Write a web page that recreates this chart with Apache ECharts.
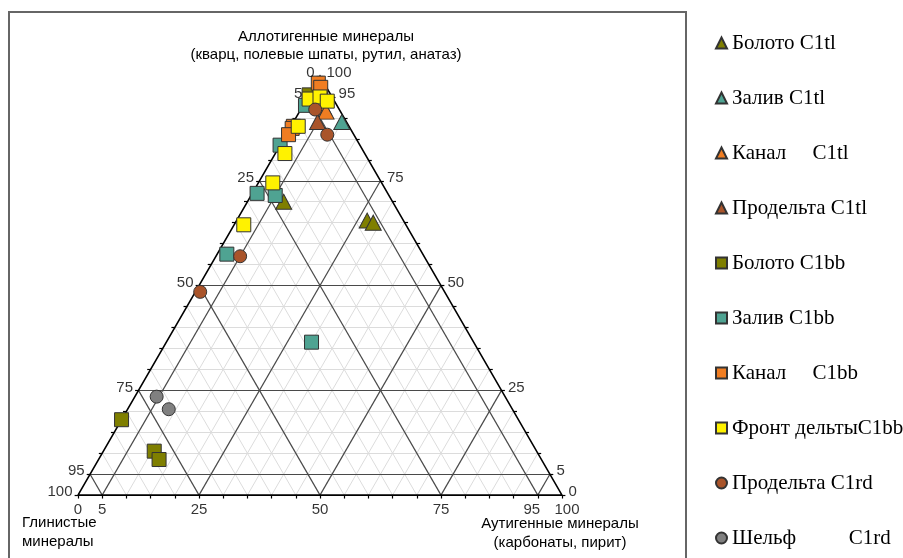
<!DOCTYPE html>
<html>
<head>
<meta charset="utf-8">
<script src="https://cdn.jsdelivr.net/npm/echarts@6/dist/echarts.min.js"></script>
<style>
html, body { margin: 0; padding: 0; background: #fff; }
#chart { width: 903px; height: 558px; }
</style>
</head>
<body>
<div id="chart"></div>
<script>
// составы образцов: [аллотигенные, аутигенные, глинистые], %
const bolotoC1tl = [[70, 7.5, 22.5], [65.5, 27, 7.5], [65, 28.5, 6.5]]
const zalivC1tl = [[89, 10, 1]]
const kanalC1tl = [[92.5, 4.5, 3], [91.5, 5.5, 3]]
const prodeltaC1tl = [[89, 5, 6]]
const bolotoC1bb = [[95.5, 0, 4.5], [18, 0, 82], [10.5, 10.5, 79], [8.5, 12.5, 79]]
const zalivC1bb = [[93, 0.5, 6.5], [83.5, 0, 16.5], [72, 1, 27], [71.5, 5, 23.5], [57.5, 2, 40.5], [36.5, 30, 33.5]]
const kanalC1bb = [[98.3, 0.5, 1.2], [97.3, 1.5, 1.2], [88, 0.5, 11.5], [87.5, 0.5, 12], [86, 0.5, 13.5]]
const frontC1bb = [[94.5, 0.5, 5], [95, 2.5, 2.5], [94, 4.5, 1.5], [88, 1.5, 10.5], [81.5, 2, 16.5], [74.5, 3, 22.5], [64.5, 2, 33.5]]
const prodeltaC1rd = [[92, 3, 5], [86, 8.5, 5.5], [57, 5, 38], [48.5, 1, 50.5]]
const shelfC1rd = [[23.5, 4.5, 72], [20.5, 8.5, 71]]

// шкала
const majorTicks = [5, 25, 50, 75, 95]
const labelTicks = [0, 5, 25, 50, 75, 95, 100]
const minorTicks = [10, 15, 20, 30, 35, 40, 45, 55, 60, 65, 70, 80, 85, 90]
const edgeTicks = [0, 5, 10, 15, 20, 25, 30, 35, 40, 45, 50, 55, 60, 65, 70, 75, 80, 85, 90, 95, 100]

const groups = [
  { name: 'Болото C1tl', data: bolotoC1tl, symbol: 'triangle', color: '#7f7f00' },
  { name: 'Залив C1tl', data: zalivC1tl, symbol: 'triangle', color: '#4fa392' },
  { name: 'Канал     C1tl', data: kanalC1tl, symbol: 'triangle', color: '#f07d22' },
  { name: 'Продельта C1tl', data: prodeltaC1tl, symbol: 'triangle', color: '#a9542a' },
  { name: 'Болото C1bb', data: bolotoC1bb, symbol: 'rect', color: '#7f7f00' },
  { name: 'Залив C1bb', data: zalivC1bb, symbol: 'rect', color: '#4fa392' },
  { name: 'Канал     C1bb', data: kanalC1bb, symbol: 'rect', color: '#f07d22' },
  { name: 'Фронт дельтыC1bb', data: frontC1bb, symbol: 'rect', color: '#fff200' },
  { name: 'Продельта C1rd', data: prodeltaC1rd, symbol: 'circle', color: '#a9542a' },
  { name: 'Шельф          C1rd', data: shelfC1rd, symbol: 'circle', color: '#808080' }
]

const SQ = Math.sqrt(3) / 2
// тернарные координаты -> декартовы
const tern = (allo, auth) => [auth + allo / 2, allo * SQ]

// линии сетки для всех трёх семейств
const gridLines = vals => {
  const out = []
  vals.forEach(v => {
    out.push({ coords: [tern(v, 0), tern(v, 100 - v)] })       // аллотигенные = v
    out.push({ coords: [tern(0, v), tern(100 - v, v)] })       // аутигенные = v
    out.push({ coords: [tern(0, 100 - v), tern(100 - v, 0)] }) // глинистые = v
  })
  return out
}

const tickLines = []
edgeTicks.forEach(v => {
  const b = tern(0, v)
  tickLines.push({ coords: [b, [b[0], b[1] - 0.7]] })
  const l = tern(100 - v, 0)
  tickLines.push({ coords: [l, [l[0] - 0.7, l[1]]] })
  const r = tern(v, 100 - v)
  tickLines.push({ coords: [r, [r[0] + 0.7, r[1]]] })
})

const labelFont = { fontFamily: 'Liberation Sans', fontSize: 15, color: '#000' }
const labelSeries = (data, position, distance, offset) => ({
  type: 'scatter',
  silent: true,
  clip: false,
  symbolSize: 1,
  itemStyle: { color: 'rgba(0,0,0,0)' },
  label: { show: true, position, distance, offset, formatter: p => p.value[2], ...labelFont },
  data
})

const bottomLabels = labelTicks.map(v => {
  const item = { value: [...tern(0, v), v] }
  if (v === 95) item.label = { offset: [-6, 0] }
  if (v === 100) item.label = { offset: [5, 0] }
  return item
})
const leftLabels = labelTicks.map(v => ({ value: [...tern(100 - v, 0), v] }))
const rightLabels = labelTicks.map(v => ({ value: [...tern(v, 100 - v), v] }))

const textStyle = (text, align) => ({ text, align, verticalAlign: 'middle', font: '15px "Liberation Sans"', fill: '#000' })

const chart = echarts.init(document.getElementById('chart'))

chart.setOption({
  animation: false,
  grid: { left: 78, top: 76, width: 484, height: 484 * SQ },
  xAxis: { type: 'value', min: 0, max: 100, show: false },
  yAxis: { type: 'value', min: 0, max: 100 * SQ, show: false },
  legend: {
    orient: 'vertical',
    left: 715,
    top: 32,
    padding: 0,
    itemWidth: 11,
    itemHeight: 11,
    itemGap: 33,
    selectedMode: false,
    data: groups.map(g => ({ name: g.name, icon: g.symbol })),
    textStyle: { fontFamily: 'Liberation Serif', fontSize: 21, lineHeight: 22, color: '#000' }
  },
  graphic: [
    { type: 'rect', shape: { x: 9, y: 12, width: 677, height: 570 }, style: { fill: 'none', stroke: '#666', lineWidth: 2 } },
    { type: 'text', x: 326, y: 37, style: textStyle('Аллотигенные минералы', 'center') },
    { type: 'text', x: 326, y: 55, style: textStyle('(кварц, полевые шпаты, рутил, анатаз)', 'center') },
    { type: 'text', x: 22, y: 523, style: textStyle('Глинистые', 'left') },
    { type: 'text', x: 22, y: 542, style: textStyle('минералы', 'left') },
    { type: 'text', x: 560, y: 524, style: textStyle('Аутигенные минералы', 'center') },
    { type: 'text', x: 560, y: 543, style: textStyle('(карбонаты, пирит)', 'center') }
  ],
  series: [
    { type: 'lines', coordinateSystem: 'cartesian2d', silent: true, clip: false,
      lineStyle: { color: '#dcdcdc', width: 1, opacity: 1 }, data: gridLines(minorTicks) },
    { type: 'lines', coordinateSystem: 'cartesian2d', silent: true, clip: false,
      lineStyle: { color: '#4a4a4a', width: 1.2, opacity: 1 }, data: gridLines(majorTicks) },
    { type: 'lines', coordinateSystem: 'cartesian2d', silent: true, clip: false,
      lineStyle: { color: '#000', width: 1.2, opacity: 1 }, data: tickLines },
    { type: 'lines', coordinateSystem: 'cartesian2d', silent: true, clip: false, polyline: true,
      lineStyle: { color: '#000', width: 1.6, opacity: 1 },
      data: [{ coords: [tern(0, 0), tern(0, 100), tern(100, 0), tern(0, 0)] }] },
    labelSeries(bottomLabels, 'bottom', 7, [0, 0]),
    labelSeries(leftLabels, 'left', 5, [0, -3]),
    labelSeries(rightLabels, 'right', 6, [0, -3]),
    ...groups.map(g => ({
      type: 'scatter',
      name: g.name,
      clip: false,
      symbol: g.symbol,
      symbolSize: g.symbol === 'triangle' ? [16, 15] : (g.symbol === 'rect' ? 14 : 13),
      itemStyle: { color: g.color, borderColor: '#333', borderWidth: 1, opacity: 1 },
      data: g.data.map(d => tern(d[0], d[1]))
    }))
  ]
})
</script>
</body>
</html>
